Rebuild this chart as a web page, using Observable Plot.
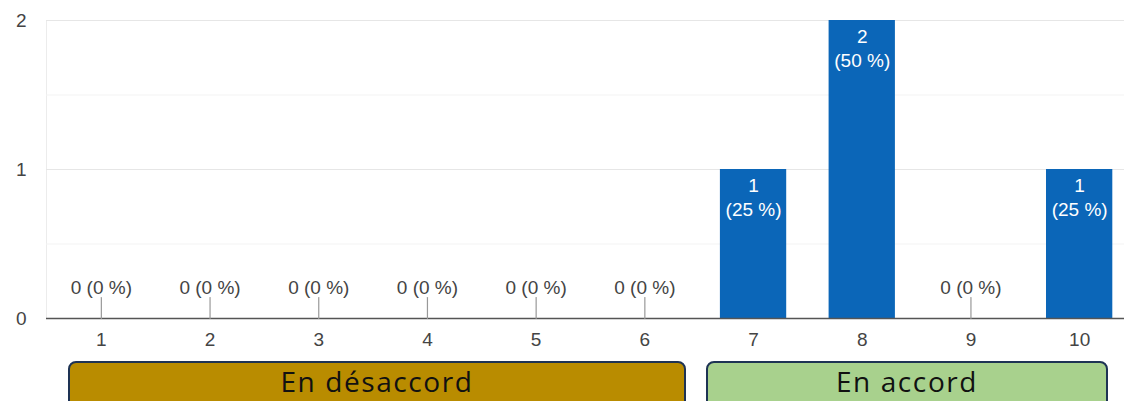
<!DOCTYPE html>
<html>
<head>
<meta charset="utf-8">
<script src="https://cdn.jsdelivr.net/npm/d3@7"></script>
<script src="https://cdn.jsdelivr.net/npm/@observablehq/plot@0.6"></script>
<style>
  html, body { margin: 0; padding: 0; background: #fff; overflow: hidden; }
  #wrap { position: relative; width: 1124px; height: 401px; }
  .grp { position: absolute; box-sizing: border-box; border: 2px solid #1e3354; border-radius: 8px;
         font-family: "Open Sans", sans-serif; font-size: 28px; letter-spacing: 1.6px; color: #111; text-align: center;
         line-height: 37px; height: 50px; }
</style>
</head>
<body>
<div id="wrap"><div id="chart"></div></div>
<script>
const categories = ["1", "2", "3", "4", "5", "6", "7", "8", "9", "10"];
const counts = [0, 0, 0, 0, 0, 0, 1, 2, 0, 1];
const percents = [0, 0, 0, 0, 0, 0, 25, 50, 0, 25];
const yTicks = [0, 1, 2];
const yMinorTicks = [0.5, 1.5];
const groupLabels = ["En désaccord", "En accord"];
const groupFills = ["#b98c00", "#a8d18d"];

const data = categories.map((c, i) => ({cat: c, count: counts[i], pct: percents[i]}));
const nonZero = data.filter(d => d.count > 0);
const zero = data.filter(d => d.count === 0);

const font = "'Liberation Sans', Arial, sans-serif";
const stem = {draw(context, l) { context.moveTo(0, 0); context.lineTo(0, -l); }};

const plot = Plot.plot({
  width: 1124,
  height: 352,
  marginLeft: 46,
  marginRight: 0,
  marginTop: 20,
  marginBottom: 34,
  style: {fontFamily: font, fontSize: "19px", color: "#444", background: "transparent"},
  x: {domain: categories, range: [46.5, 1133.5], paddingInner: 0.39, paddingOuter: 0.195, round: false, label: null},
  y: {domain: [0, 2], label: null},
  marks: [
    Plot.frame({anchor: "left", stroke: "#ececec"}),
    Plot.ruleY(yMinorTicks, {stroke: "#f3f3f3"}),
    Plot.ruleY([1, 2], {stroke: "#e6e6e6"}),
    Plot.barY(data, {x: "cat", y: "count", fill: "#0b66b8"}),
    Plot.ruleY([0], {stroke: "#555", strokeWidth: 1.5}),
    Plot.vector(zero, {x: "cat", y: 0, length: 21, rotate: 0, anchor: "start", shape: stem, stroke: "#999", strokeWidth: 1.2}),
    Plot.text(zero, {x: "cat", y: 0, text: d => `${d.count} (${d.pct} %)`, dy: -31, fill: "#444", fontSize: 19}),
    Plot.text(nonZero, {x: "cat", y: "count", text: d => `${d.count}\n(${d.pct} %)`, lineAnchor: "top", dy: 5, lineHeight: 1.27, fill: "white", fontSize: 19}),
    Plot.axisY(yTicks, {tickSize: 0, tickPadding: 20, fontSize: 19, fill: "#444", tickFormat: "d", label: null}),
    Plot.axisX({tickSize: 0, tickPadding: 14, fontSize: 19, fill: "#444", label: null})
  ]
});
document.getElementById("chart").appendChild(plot);

const wrap = document.getElementById("wrap");
const boxes = [{left: 68, width: 618}, {left: 706, width: 402}];
groupLabels.forEach((label, i) => {
  const d = document.createElement("div");
  d.className = "grp";
  d.style.left = boxes[i].left + "px";
  d.style.width = boxes[i].width + "px";
  d.style.top = "361px";
  d.style.background = groupFills[i];
  d.textContent = label;
  wrap.appendChild(d);
});
</script>
</body>
</html>
